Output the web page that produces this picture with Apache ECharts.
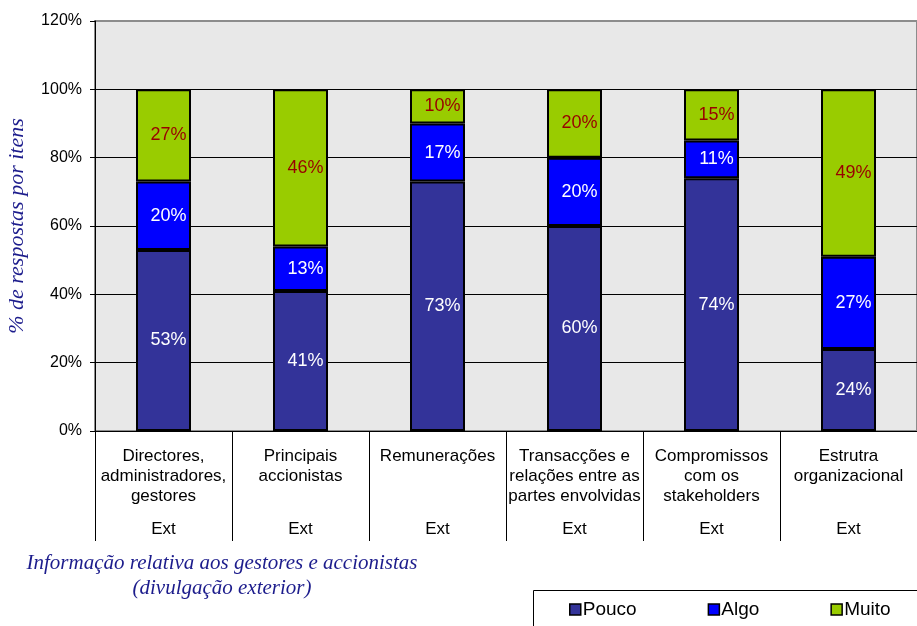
<!DOCTYPE html>
<html>
<head>
<meta charset="utf-8">
<script src="https://cdn.jsdelivr.net/npm/echarts@6/dist/echarts.min.js"></script>
<style>html,body{margin:0;padding:0;background:#fff}#c{width:917px;height:626px}</style>
</head>
<body>
<div id="c"></div>
<script>
var categories = ['Directores,\nadministradores,\ngestores', 'Principais\naccionistas', 'Remunerações', 'Transacções e\nrelações entre as\npartes envolvidas', 'Compromissos\ncom os\nstakeholders', 'Estrutra\norganizacional'];
var groupLabels = ['Ext', 'Ext', 'Ext', 'Ext', 'Ext', 'Ext'];
var pouco = [53, 41, 73, 60, 74, 24];
var algo = [20, 13, 17, 20, 11, 27];
var muito = [27, 46, 10, 20, 15, 49];
var yTicks = [0, 20, 40, 60, 80, 100, 120];
var seriesNames = ['Pouco', 'Algo', 'Muito'];
var yTitle = '% de respostas por itens';
var chartTitle = 'Informação relativa aos gestores e accionistas\n(divulgação exterior)';

var chart = echarts.init(document.getElementById('c'));
var sans = '"Liberation Sans", Arial, sans-serif';
var serif = '"Liberation Serif", "Times New Roman", serif';
function mk(name, data, color, labelColor) {
  return {
    name: name, type: 'bar', stack: 'a', data: data, barWidth: 55,
    itemStyle: { color: color, borderColor: '#000', borderWidth: 2 },
    label: { show: true, position: 'inside', formatter: '{c}%', color: labelColor, fontFamily: sans, fontSize: 18, offset: [5, 0] }
  };
}
chart.setOption({
  animation: false,
  title: {
    text: chartTitle, left: 217, top: 546, textAlign: 'center',
    textStyle: { fontFamily: serif, fontStyle: 'italic', fontWeight: 'normal', fontSize: 21, color: '#1c1c8c', lineHeight: 25, align: 'center' }
  },
  graphic: [{
    type: 'rect', z: 0, silent: true,
    shape: { x: 533.5, y: 590.5, width: 420, height: 60 },
    style: { fill: '#fff', stroke: '#000', lineWidth: 1 }
  }],
  legend: {
    data: seriesNames, left: 569, top: 600, selectedMode: false, width: 400,
    icon: 'rect', itemWidth: 11, itemHeight: 11, itemGap: 71,
    padding: 0, z: 10,
    textStyle: { fontFamily: sans, fontSize: 19, color: '#000', padding: [0, 0, 0, -3] },
    itemStyle: { borderColor: '#000', borderWidth: 1.5 }
  },
  grid: { left: 95, right: 0, top: 21, bottom: 195, outerBoundsMode: 'none', containLabel: false, show: true, backgroundColor: '#e8e8e8', borderColor: '#8c8c8c', borderWidth: 2 },
  xAxis: [{
    type: 'category', data: categories, position: 'bottom',
    axisLine: { lineStyle: { color: '#000', width: 1 } },
    axisTick: { show: true, interval: 0, length: 110, alignWithLabel: false, lineStyle: { color: '#000' } },
    axisLabel: { interval: 0, margin: 15, fontFamily: sans, fontSize: 17, lineHeight: 20, color: '#000' }
  }, {
    type: 'category', data: groupLabels, position: 'bottom',
    axisLine: { show: false }, axisTick: { show: false },
    axisLabel: { interval: 0, margin: 90, fontFamily: sans, fontSize: 17, color: '#000' }
  }],
  yAxis: {
    type: 'value', min: yTicks[0], max: yTicks[yTicks.length - 1], interval: 20,
    name: yTitle, nameLocation: 'middle', nameGap: 67, nameRotate: 90,
    nameTextStyle: { fontFamily: serif, fontStyle: 'italic', fontSize: 22, color: '#1c1c8c' },
    axisLine: { show: true, lineStyle: { color: '#000' } },
    axisTick: { show: true, length: 5, lineStyle: { color: '#000' } },
    axisLabel: { formatter: '{value}%', margin: 13, fontFamily: sans, fontSize: 16, color: '#000' },
    splitLine: { show: true, lineStyle: { color: ['#000', '#000', '#000', '#000', '#000', '#000', '#8c8c8c'], width: 1 } }
  },
  series: [
    mk(seriesNames[0], pouco, '#333399', '#ffffff'),
    mk(seriesNames[1], algo, '#0000ff', '#ffffff'),
    mk(seriesNames[2], muito, '#99cc00', '#990000')
  ]
});
</script>
</body>
</html>
